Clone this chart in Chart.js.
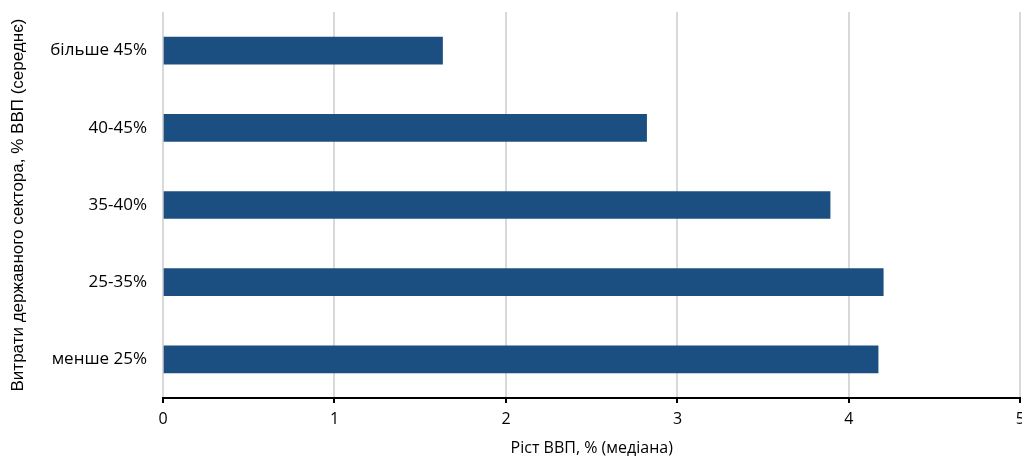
<!DOCTYPE html>
<html>
<head>
<meta charset="utf-8">
<script src="https://cdn.jsdelivr.net/npm/chart.js@4/dist/chart.umd.min.js"></script>
<style>
  html, body { margin: 0; padding: 0; background: #fff; overflow: hidden; }
  #wrap { width: 1032px; height: 458px; position: relative; }
</style>
</head>
<body>
<div id="wrap"><canvas id="myChart"></canvas></div>
<script>
// категорії та значення
const categories = ['більше 45%', '40-45%', '35-40%', '25-35%', 'менше 25%'];
const gdpGrowth = [1.63, 2.82, 3.89, 4.2, 4.17];
const xTicks = [0, 1, 2, 3, 4, 5];

document.addEventListener('DOMContentLoaded', () => {
    var ctx = document.getElementById('myChart').getContext('2d');
    var myChart = new Chart(ctx, {
        type: 'bar',
        data: {
            labels: categories,
            datasets: [{
                label: 'Ріст ВВП',
                data: gdpGrowth,
                backgroundColor: '#1c4f81',
                borderWidth: 0,
                barThickness: 27
            }]
        },
        options: {
            indexAxis: 'y',
            responsive: true,
            maintainAspectRatio: false,
            animation: false,
            layout: { padding: { top: 12, left: 0, right: 7, bottom: 0 } },
            plugins: {
                legend: { display: false },
                tooltip: { enabled: false }
            },
            scales: {
                x: {
                    min: 0,
                    max: 5,
                    afterBuildTicks: (axis) => { axis.ticks = xTicks.map(v => ({ value: v })); },
                    afterFit: (axis) => { axis.height = 60; },
                    ticks: {
                        color: '#000',
                        font: { family: 'Open Sans', size: 16 },
                        padding: 7
                    },
                    grid: {
                        color: '#d9d9d9',
                        lineWidth: 2,
                        tickColor: '#000',
                        tickLength: 5,
                        tickWidth: 2
                    },
                    border: { color: '#000', width: 2 },
                    title: {
                        display: true,
                        text: 'Ріст ВВП, % (медіана)',
                        color: '#000',
                        font: { family: 'Open Sans', size: 16 },
                        padding: { top: 2, bottom: 0 }
                    }
                },
                y: {
                    afterFit: (axis) => {
                        axis.width = 163;
                        axis.paddingTop = 0;
                        axis.paddingBottom = 0;
                    },
                    ticks: {
                        color: '#000',
                        font: { family: 'Open Sans', size: 17 },
                        padding: 16
                    },
                    grid: { display: false, drawTicks: false },
                    border: { display: false },
                    title: {
                        display: true,
                        text: 'Витрати державного сектора, % ВВП (середнє)',
                        color: '#000',
                        font: { family: 'Liberation Sans', size: 17 },
                        padding: { top: 8, bottom: 0 }
                    }
                }
            }
        }
    });
});
</script>
</body>
</html>
